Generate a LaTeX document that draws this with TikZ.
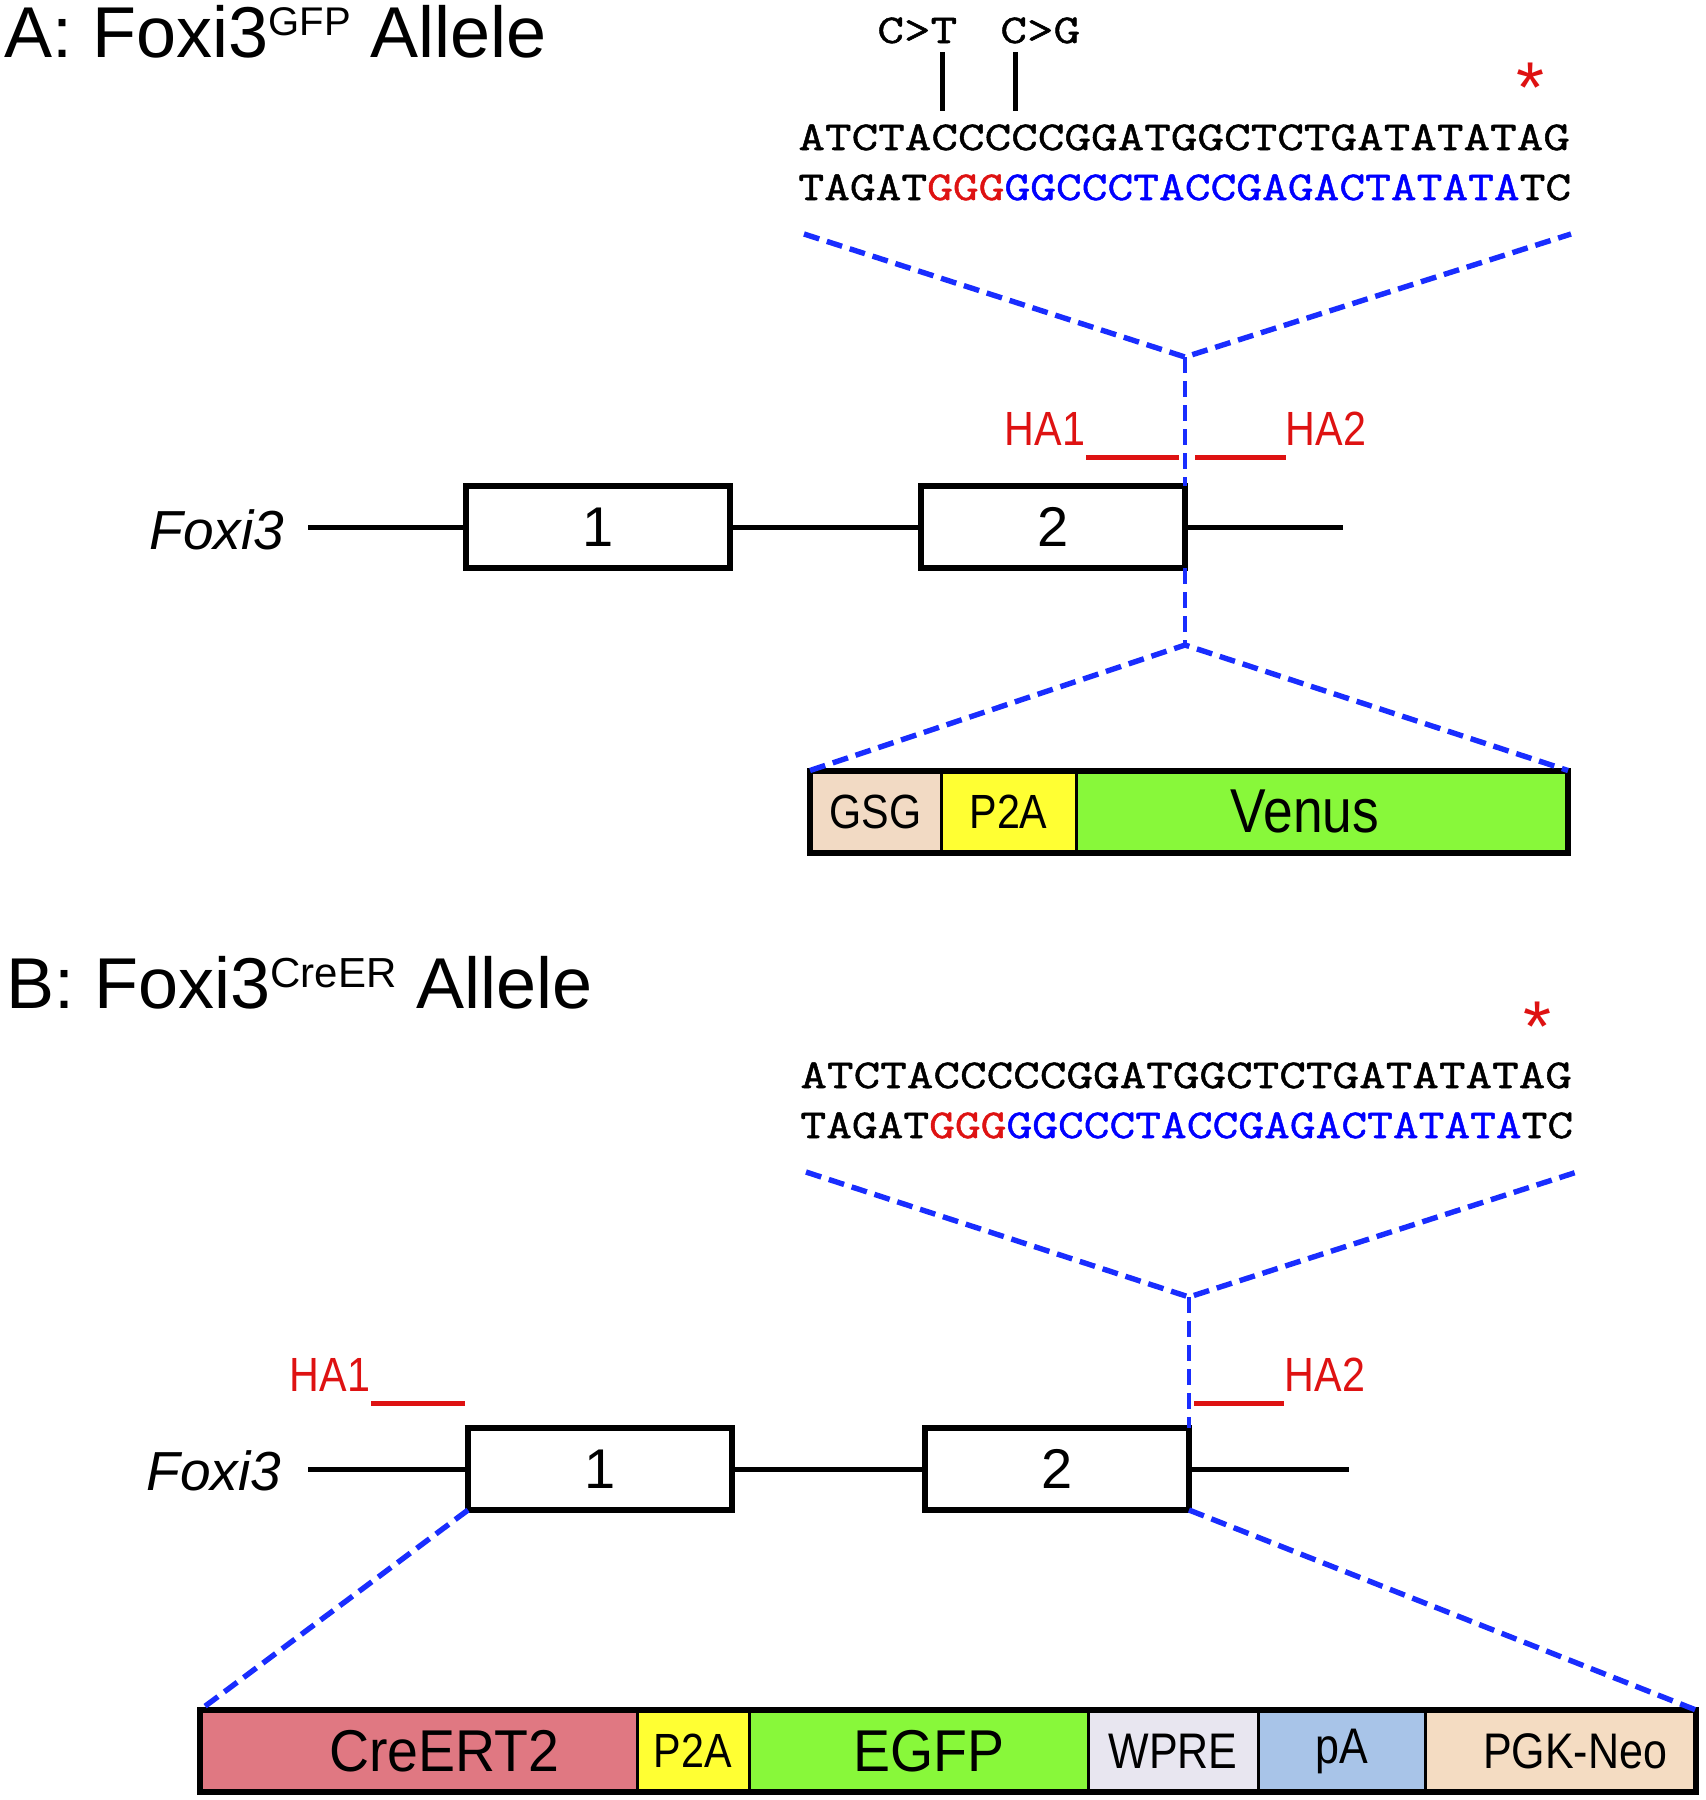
\documentclass[tikz,border=0pt]{standalone}
\usepackage{fontspec}
\setmainfont{Liberation Sans}
\newfontfamily\seqfont[FakeStretch=1.26, FakeBold=1.2]{Latin Modern Mono}
\newfontfamily\seqfontnarrow[FakeStretch=1.22, FakeBold=1.2]{Latin Modern Mono}
\newfontfamily\narrowfont[FakeStretch=0.86]{Liberation Sans}
\newfontfamily\cassfont[FakeStretch=0.94]{Liberation Sans}

\definecolor{hared}{RGB}{222,18,18}
\definecolor{seqblue}{RGB}{0,0,255}
\definecolor{zoomblue}{RGB}{25,45,255}
\definecolor{gsgcol}{RGB}{242,218,196}
\definecolor{p2acol}{RGB}{255,255,51}
\definecolor{gfpcol}{RGB}{136,248,58}
\definecolor{crecol}{RGB}{224,120,130}
\definecolor{wprecol}{RGB}{232,230,240}
\definecolor{pacol}{RGB}{168,196,232}
\definecolor{neocol}{RGB}{244,220,194}

\tikzset{
  exon/.style={draw, line width=3pt, minimum width=132pt, minimum height=41pt,
    inner sep=0pt, outer sep=0pt, font=\fontsize{28}{30}\selectfont},
  gene/.style={line width=2.5pt},
  homarm/.style={draw=hared, line width=2.5pt},
  halabel/.style={anchor=base, inner sep=0pt, text=hared, font=\narrowfont\fontsize{24}{26}\selectfont},
  zoomline/.style={draw=zoomblue, line width=2.7pt, dash pattern=on 8pt off 4pt},
  seg/.style={draw, line width=1.5pt, minimum height=41pt, inner sep=0pt, outer sep=0pt,
    anchor=west, font=\narrowfont\fontsize{24}{26}\selectfont},
  seqline/.style={anchor=base west, inner sep=0pt, font=\seqfont\fontsize{20.5}{24}\selectfont},
  title/.style={anchor=base west, inner sep=0pt, font=\fontsize{36}{40}\selectfont},
  genename/.style={anchor=base west, inner sep=0pt, font=\itshape\fontsize{27.5}{30}\selectfont},
  star/.style={anchor=base, inner sep=0pt, text=hared, font=\fontsize{36}{38}\selectfont}
}

\begin{document}
\begin{tikzpicture}[x=0.5pt, y=-0.5pt]
	\useasboundingbox (0,0) rectangle (1705,1800);

	% Panel A: GFP allele
	\node[title] (titleA) at (4,57) {A: Foxi3\raisebox{11pt}{\fontsize{20}{22}\selectfont GFP} Allele};

	% sequence with point mutations
	\node[seqline] (ctA) at (877,43) {C>T};
	\node[seqline] (cgA) at (1000,43) {C>G};
	\coordinate (tickAa) at (942,52);
	\coordinate (tickAb) at (1015,52);
	\draw[line width=2.5pt] (tickAa) -- ++(0,59);
	\draw[line width=2.5pt] (tickAb) -- ++(0,59);
	\node[star] (starA) at (1530,112) {*};
	\node[seqline] (topseqA) at (798,150) {ATCTACCCCCGGATGGCTCTGATATATAG};
	\node[seqline, font=\seqfontnarrow\fontsize{20.5}{24}\selectfont] (botseqA) at (798,200)
		{TAGAT\textcolor{hared}{GGG}\textcolor{seqblue}{GGCCCTACCGAGACTATATA}TC};

	% gene
	\node[genename] (foxiA) at (149,549) {Foxi3};
	\node[exon] (exA1) at (598,527) {1};
	\node[exon] (exA2) at (1053,527) {2};
	\coordinate (startA) at (308,527);
	\coordinate (endA) at (1343,527);
	\draw[gene] (startA) -- (exA1);
	\draw[gene] (exA1) -- (exA2);
	\draw[gene] (exA2) -- (endA);

	% homology arms
	\node[halabel] (haA1) at (1045,445) {HA1};
	\node[halabel] (haA2) at (1326,445) {HA2};
	\draw[homarm] (1086,457) -- (1179,457);
	\draw[homarm] (1195,457) -- (1286,457);

	% cassette
	\node[seg, fill=gsgcol, minimum width=65.5pt] (gsgA) at (810,811.5) {GSG};
	\node[seg, fill=p2acol, minimum width=67.5pt] (p2aA) at (gsgA.east) {P2A};
	\node[seg, fill=gfpcol, minimum width=246pt, font=\narrowfont\fontsize{31}{33}\selectfont] (venusA) at (p2aA.east) {Venus\kern0.55em};
	\draw[line width=3pt] (gsgA.north west) rectangle (venusA.south east);

	% zoom lines
	\coordinate (upA) at (1185,357);
	\coordinate (lowA) at (1185,645);
	\draw[zoomline] (804,234) -- (upA) -- (1571,234);
	\draw[zoomline, line width=2pt] (upA) -- (exA2.north east);
	\draw[zoomline, line width=2pt] (exA2.south east) -- (lowA);
	\draw[zoomline] (gsgA.north west) -- (lowA) -- (venusA.north east);

	% Panel B: CreER allele
	\node[title] (titleB) at (6,1008) {B: Foxi3\raisebox{10.5pt}{\fontsize{21}{23}\selectfont CreER} Allele};

	% sequence
	\node[star] (starB) at (1537,1051) {*};
	\node[seqline] (topseqB) at (800,1088) {ATCTACCCCCGGATGGCTCTGATATATAG};
	\node[seqline, font=\seqfontnarrow\fontsize{20.5}{24}\selectfont] (botseqB) at (800,1138)
		{TAGAT\textcolor{hared}{GGG}\textcolor{seqblue}{GGCCCTACCGAGACTATATA}TC};

	% gene
	\node[genename] (foxiB) at (146,1490) {Foxi3};
	\node[exon] (exB1) at (600,1469) {1};
	\node[exon] (exB2) at (1057,1469) {2};
	\coordinate (startB) at (308,1469);
	\coordinate (endB) at (1349,1469);
	\draw[gene] (startB) -- (exB1);
	\draw[gene] (exB1) -- (exB2);
	\draw[gene] (exB2) -- (endB);

	% homology arms
	\node[halabel] (haB1) at (330,1391) {HA1};
	\node[halabel] (haB2) at (1325,1391) {HA2};
	\draw[homarm] (371,1403) -- (465,1403);
	\draw[homarm] (1194,1403) -- (1284,1403);

	% cassette
	\node[seg, fill=crecol, minimum width=218.5pt, font=\cassfont\fontsize{29.5}{32}\selectfont] (creB) at (200,1751) {\hspace{0.88em}CreERT2};
	\node[seg, fill=p2acol, minimum width=56pt] (p2aB) at (creB.east) {P2A};
	\node[seg, fill=gfpcol, minimum width=169.5pt, font=\cassfont\fontsize{29.5}{32}\selectfont] (egfpB) at (p2aB.east) {\hspace{0.34em}EGFP};
	\node[seg, fill=wprecol, minimum width=85pt, font=\narrowfont\fontsize{25}{27}\selectfont] (wpreB) at (egfpB.east) {WPRE};
	\node[seg, fill=pacol, minimum width=83.5pt, font=\narrowfont\fontsize{25}{27}\selectfont] (paB) at (wpreB.east) {pA};
	\node[seg, fill=neocol, minimum width=135.5pt, font=\narrowfont\fontsize{25}{27}\selectfont] (neoB) at (paB.east) {\hspace{0.58em}PGK-Neo};
	\draw[line width=3pt] (creB.north west) rectangle (neoB.south east);

	% zoom lines
	\coordinate (upB) at (1189,1297);
	\draw[zoomline] (806,1172) -- (upB) -- (1577,1172);
	\draw[zoomline, line width=2pt] (upB) -- (exB2.north east);
	\draw[zoomline] (exB1.south west) -- (creB.north west);
	\draw[zoomline] (exB2.south east) -- (neoB.north east);
\end{tikzpicture}
\end{document}
